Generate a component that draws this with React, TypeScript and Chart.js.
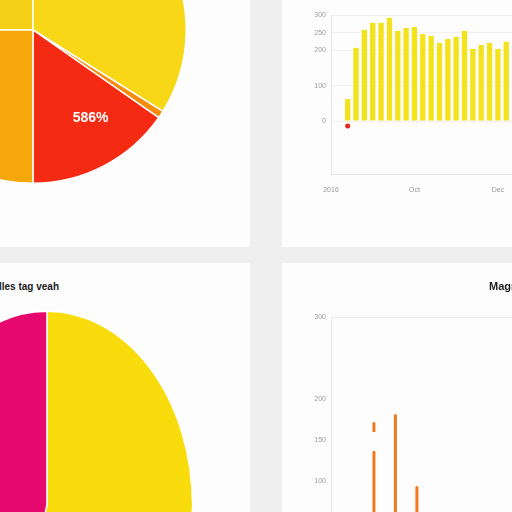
import React, { useEffect, useRef } from "react";
import { Chart, registerables } from "chart.js";

Chart.register(...registerables);
Chart.defaults.font.family = '"Liberation Sans", Arial, sans-serif';

// ---- Top-left pie ----
const PIE1_CATEGORIES = ["West", "North", "Other", "East", "South"];
const PIE1_VALUES = [25, 33.9, 0.8, 15.3, 25];
const PIE1_COLORS = ["#f6cf18", "#f8d716", "#f68b0c", "#f42b12", "#f5a70b"];
const PIE1_LABELS = ["", "", "", "586%", ""];

// ---- Top-right bar chart ----
const BAR1_CATEGORIES = [
  "2016", "", "", "", "", "", "", "", "", "",
  "Oct", "", "", "", "", "", "", "", "", "",
  "Dec", "", "", "", "", "", "", "", "", "",
];
const BAR1_VALUES = [
  null, null, 62, 207, 258, 278, 278, 292, 255, 263,
  266, 246, 241, 221, 232, 238, 255, 204, 215, 221,
  204, 224, null, null, null, null, null, null, null, null,
];
const BAR1_POINTS = [
  null, null, -14, null, null, null, null, null, null, null,
  null, null, null, null, null, null, null, null, null, null,
  null, null, null, null, null, null, null, null, null, null,
];
const BAR1_Y_TICKS = [0, 100, 200, 250, 300];

// ---- Bottom-left pie ----
const PIE2_TITLE = "lles tag veah";
const PIE2_CATEGORIES = ["Yellow", "Magenta"];
const PIE2_VALUES = [55, 45];
const PIE2_COLORS = ["#f9dc0c", "#e6086e"];

// ---- Bottom-right bar chart ----
const BAR2_TITLE = "Magnitude";
const BAR2_CATEGORIES = Array.from({ length: 20 }, (_, i) => `${i + 1}`);
const BAR2_VALUES = [null, null, 137, 182, 94, null, null, null, null, null, null, null, null, null, null, null, null, null, null, null];
const BAR2_TOPS = [null, null, [160, 172], null, null, null, null, null, null, null, null, null, null, null, null, null, null, null, null, null];
const BAR2_Y_TICKS = [100, 150, 200, 300];

const TICK_FONT = { size: 7 };
const TICK_COLOR = "#9a9a9a";

const sliceLabelPlugin = {
  id: "sliceLabels",
  afterDatasetsDraw(chart: any) {
    const meta = chart.getDatasetMeta(0);
    const ctx = chart.ctx;
    meta.data.forEach((arc: any, i: number) => {
      const text = PIE1_LABELS[i];
      if (!text) return;
      const p = arc.getProps(["x", "y", "startAngle", "endAngle", "outerRadius"], true);
      const a = p.startAngle + (p.endAngle - p.startAngle) * 0.4;
      const r = p.outerRadius * 0.69;
      ctx.save();
      ctx.fillStyle = "#ffffff";
      ctx.font = 'bold 14px "Liberation Sans", Arial, sans-serif';
      ctx.textAlign = "center";
      ctx.textBaseline = "middle";
      ctx.fillText(text, p.x + Math.cos(a) * r, p.y + Math.sin(a) * r);
      ctx.restore();
    });
  },
};

function ChartBox({ config, style }: { config: any; style: any }) {
  const ref = useRef<HTMLCanvasElement | null>(null);
  useEffect(() => {
    const c = new Chart(ref.current as HTMLCanvasElement, config);
    return () => c.destroy();
  }, []);
  return (
    <div style={{ position: "absolute", ...style }}>
      <canvas ref={ref} />
    </div>
  );
}

const commonPlugins = { legend: { display: false }, tooltip: { enabled: false } };

const pie1Config = {
  type: "pie",
  data: {
    labels: PIE1_CATEGORIES,
    datasets: [{ data: PIE1_VALUES, backgroundColor: PIE1_COLORS, borderColor: "#ffffff", borderWidth: 1.5 }],
  },
  options: {
    animation: false,
    responsive: true,
    maintainAspectRatio: false,
    rotation: -90,
    layout: { padding: 0 },
    plugins: commonPlugins,
  },
  plugins: [sliceLabelPlugin],
};

const bar1Config = {
  type: "bar",
  data: {
    labels: BAR1_CATEGORIES,
    datasets: [
      {
        type: "line",
        data: BAR1_POINTS,
        showLine: false,
        pointRadius: 2.5,
        pointBackgroundColor: "#e3261b",
        pointBorderWidth: 0,
        order: 0,
      },
      {
        data: BAR1_VALUES,
        backgroundColor: "#f3e31c",
        barPercentage: 0.75,
        categoryPercentage: 0.85,
        order: 1,
      },
    ],
  },
  options: {
    animation: false,
    responsive: true,
    maintainAspectRatio: false,
    layout: { padding: { top: 15, left: 0, right: 0, bottom: 0 } },
    plugins: commonPlugins,
    scales: {
      x: {
        offset: false,
        grid: { display: false },
        border: { display: true, color: "#e6e6e6" },
        ticks: { autoSkip: false, maxRotation: 0, font: TICK_FONT, color: TICK_COLOR, padding: 4 },
        afterFit: (s: any) => { s.height = 20; },
      },
      y: {
        min: -150,
        max: 300,
        grid: { color: "#f0f0f0", drawTicks: false },
        border: { display: true, color: "#e6e6e6" },
        ticks: { font: TICK_FONT, color: TICK_COLOR, padding: 5 },
        afterBuildTicks: (s: any) => { s.ticks = BAR1_Y_TICKS.map((v) => ({ value: v })); },
        afterFit: (s: any) => { s.width = 49; },
      },
    },
  },
};

const pie2Config = {
  type: "pie",
  data: {
    labels: PIE2_CATEGORIES,
    datasets: [{ data: PIE2_VALUES, backgroundColor: PIE2_COLORS, borderColor: "#ffffff", borderWidth: 2 }],
  },
  options: {
    animation: false,
    responsive: true,
    maintainAspectRatio: false,
    layout: { padding: 0 },
    plugins: commonPlugins,
  },
};

const bar2Config = {
  type: "bar",
  data: {
    labels: BAR2_CATEGORIES,
    datasets: [
      { data: BAR2_VALUES, backgroundColor: "#f07a1c", barPercentage: 0.2, categoryPercentage: 0.7, borderRadius: 1.5, grouped: false },
      { data: BAR2_TOPS, backgroundColor: "#f07a1c", barPercentage: 0.2, categoryPercentage: 0.7, borderRadius: 1.5, grouped: false },
    ],
  },
  options: {
    animation: false,
    responsive: true,
    maintainAspectRatio: false,
    layout: { padding: { top: 0, left: 12, right: 25, bottom: 0 } },
    plugins: {
      ...commonPlugins,
      title: {
        display: true,
        text: BAR2_TITLE,
        color: "#222222",
        font: { size: 11, weight: "bold" },
        padding: { top: 17, bottom: 24 },
      },
    },
    scales: {
      x: {
        offset: false,
        grid: { display: false },
        border: { display: false },
        ticks: { display: false },
        afterFit: (s: any) => { s.height = 10; },
      },
      y: {
        min: 0,
        max: 300,
        grid: {
          color: (c: any) => (c.tick && c.tick.value === 300 ? "#ececec" : "rgba(0,0,0,0)"),
          drawTicks: false,
        },
        border: { display: true, color: "#e6e6e6" },
        ticks: { font: TICK_FONT, color: TICK_COLOR, padding: 5 },
        afterBuildTicks: (s: any) => { s.ticks = BAR2_Y_TICKS.map((v) => ({ value: v })); },
        afterFit: (s: any) => { s.width = 37; },
      },
    },
  },
};

const card = (left: number, top: number, width: number, height: number) => ({
  position: "absolute" as const,
  left,
  top,
  width,
  height,
  background: "#fdfdfd",
  overflow: "hidden",
});

export default function App() {
  return (
    <div
      style={{
        position: "fixed",
        left: 0,
        top: 0,
        width: 512,
        height: 512,
        overflow: "hidden",
        background: "#efefef",
      }}
    >
      <div style={card(0, 0, 250, 247)}>
        <ChartBox config={pie1Config} style={{ left: -121, top: -124, width: 308, height: 308 }} />
      </div>
      <div style={card(282, 0, 230, 247)}>
        <ChartBox config={bar1Config} style={{ left: 0, top: 0, width: 295, height: 194 }} />
      </div>
      <div style={card(0, 263, 250, 249)}>
        <div
          style={{
            position: "absolute",
            left: -1,
            top: 17,
            fontFamily: '"Liberation Sans", Arial, sans-serif',
            fontWeight: "bold",
            fontSize: 10,
            lineHeight: "13px",
            color: "#222222",
            whiteSpace: "nowrap",
          }}
        >
          {PIE2_TITLE}
        </div>
        <ChartBox
          config={pie2Config}
          style={{ left: -148, top: 47, width: 390, height: 390, transform: "scaleX(0.75)", transformOrigin: "195px 195px" }}
        />
      </div>
      <div style={card(282, 263, 230, 249)}>
        <ChartBox config={bar2Config} style={{ left: 0, top: 0, width: 482, height: 310 }} />
      </div>
    </div>
  );
}
